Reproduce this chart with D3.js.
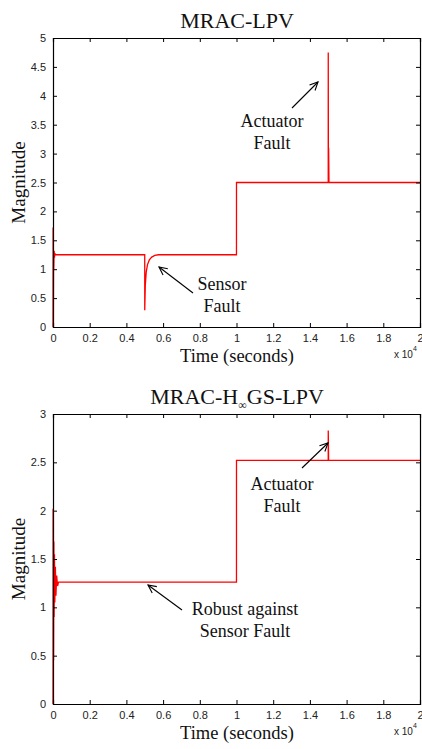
<!DOCTYPE html>
<meta charset="utf-8">
<style>
body { margin: 0; background: #fff; }
svg { display: block; }
.tick text { font-family: "Liberation Sans", Arial, sans-serif; font-size: 11px; fill: #222; }
.serif { font-family: "Liberation Serif", "Times New Roman", serif; fill: #111; }
</style>
<svg width="422" height="749"></svg>
<script src="https://cdn.jsdelivr.net/npm/d3@7"></script>
<script>

// time in seconds, response magnitude
var lpvTime  = [0, 5, 10, 15, 20, 30, 40, 60, 80, 100, 150, 4999, 5000, 5030, 5080, 5150, 5250, 5380, 5550, 5750, 9999, 10000, 14999, 15000, 15010, 15020, 15040, 20000];
var lpvValue = [0, 1.72, 0, 1.6, 0.1, 1.3, 1.0, 1.32, 1.2, 1.27, 1.25, 1.25, 0.29, 0.72, 0.95, 1.08, 1.16, 1.21, 1.24, 1.25, 1.25, 2.5, 2.5, 4.75, 2.5, 3.1, 2.5, 2.5];

var hinfTime  = [0, 5, 10, 20, 30, 45, 60, 80, 100, 130, 160, 200, 250, 300, 9999, 10000, 14999, 15000, 15020, 20000];
var hinfValue = [0, 2.02, 0, 1.98, 0.45, 1.68, 0.9, 1.55, 1.05, 1.42, 1.12, 1.33, 1.22, 1.26, 1.26, 2.52, 2.52, 2.83, 2.52, 2.52];

var xTicks = [0, 2000, 4000, 6000, 8000, 10000, 12000, 14000, 16000, 18000, 20000];
var lpvYTicks = [0, 0.5, 1, 1.5, 2, 2.5, 3, 3.5, 4, 4.5, 5];
var hinfYTicks = [0, 0.5, 1, 1.5, 2, 2.5, 3];

var svg = d3.select("svg");

function drawPanel(cfg) {
  var g = svg.append("g");
  var x = d3.scaleLinear().domain([0, 20000]).range([53, 420]);
  var y = d3.scaleLinear().domain([0, cfg.yMax]).range([cfg.bottom, cfg.top]);

  var line = d3.line()
      .x(function(d) { return x(d[0]); })
      .y(function(d) { return y(d[1]); });

  g.append("path")
      .datum(d3.zip(cfg.time, cfg.value))
      .attr("d", line)
      .attr("fill", "none")
      .attr("stroke", "#ff0000")
      .attr("stroke-width", 1.3);

  var fmt = function(d) { return d3.format("")(+(d / 10000).toFixed(1)); };

  g.append("g")
      .attr("transform", "translate(0," + cfg.bottom + ")")
      .call(d3.axisBottom(x).tickValues(xTicks).tickSize(-4).tickPadding(7).tickFormat(fmt));
  g.append("g")
      .attr("transform", "translate(0," + cfg.top + ")")
      .call(d3.axisTop(x).tickValues(xTicks).tickSize(-4).tickFormat(""));
  g.append("g")
      .attr("transform", "translate(53,0)")
      .call(d3.axisLeft(y).tickValues(cfg.yTicks).tickSize(-4).tickPadding(7).tickFormat(d3.format("")));
  g.append("g")
      .attr("transform", "translate(420,0)")
      .call(d3.axisRight(y).tickValues(cfg.yTicks).tickSize(-4).tickFormat(""));

  g.selectAll(".domain").attr("stroke", "#000").attr("stroke-width", 1.2);
  g.selectAll(".tick line").attr("stroke", "#000");

  // title
  var t = g.append("text").attr("class", "serif")
      .attr("x", 237).attr("y", cfg.top - 10)
      .attr("text-anchor", "middle").style("font-size", "22px");
  cfg.title(t);

  // axis labels
  g.append("text").attr("class", "serif")
      .attr("x", 237).attr("y", cfg.bottom + 35)
      .attr("text-anchor", "middle").style("font-size", "18.5px")
      .text("Time (seconds)");
  g.append("text").attr("class", "serif")
      .attr("transform", "translate(25," + ((cfg.top + cfg.bottom) / 2) + ") rotate(-90)")
      .attr("text-anchor", "middle").style("font-size", "19px")
      .text("Magnitude");

  var ex = g.append("text")
      .attr("x", 394).attr("y", cfg.bottom + 31)
      .style("font-family", "Liberation Sans, Arial, sans-serif")
      .style("font-size", "10px").style("fill", "#222");
  ex.append("tspan").text("x 10");
  ex.append("tspan").attr("dy", -7).style("font-size", "7px").text("4");

  // annotations
  cfg.notes.forEach(function(n) {
    var tx = g.append("text").attr("class", "serif")
        .attr("text-anchor", "middle").style("font-size", "18px");
    n.lines.forEach(function(s, i) {
      tx.append("tspan").attr("x", n.x).attr("y", n.y + i * 22).text(s);
    });
    g.append("line")
        .attr("x1", n.arrow[0]).attr("y1", n.arrow[1])
        .attr("x2", n.arrow[2]).attr("y2", n.arrow[3])
        .attr("stroke", "#000").attr("stroke-width", 1.1);
    var ang = Math.atan2(n.arrow[3] - n.arrow[1], n.arrow[2] - n.arrow[0]);
    var L = 9, w = 0.45;
    var hx = n.arrow[2], hy = n.arrow[3];
    g.append("path")
        .attr("d", "M" + (hx - L * Math.cos(ang - w)) + "," + (hy - L * Math.sin(ang - w)) +
                   "L" + hx + "," + hy +
                   "L" + (hx - L * Math.cos(ang + w)) + "," + (hy - L * Math.sin(ang + w)))
        .attr("fill", "none").attr("stroke", "#000").attr("stroke-width", 1.1);
  });
}

drawPanel({
  top: 38, bottom: 327, yMax: 5, yTicks: lpvYTicks,
  time: lpvTime, value: lpvValue,
  title: function(t) { t.text("MRAC-LPV"); },
  notes: [
    { lines: ["Sensor", "Fault"], x: 222, y: 290, arrow: [193, 293, 159, 267] },
    { lines: ["Actuator", "Fault"], x: 272, y: 127, arrow: [292, 108, 318, 82] }
  ]
});

drawPanel({
  top: 414, bottom: 704, yMax: 3, yTicks: hinfYTicks,
  time: hinfTime, value: hinfValue,
  title: function(t) {
    t.append("tspan").text("MRAC-H");
    t.append("tspan").attr("dy", 5).style("font-size", "12px").text("\u221e");
    t.append("tspan").attr("dy", -5).text("GS-LPV");
  },
  notes: [
    { lines: ["Robust against", "Sensor Fault"], x: 245, y: 615, arrow: [182, 610, 148, 585] },
    { lines: ["Actuator", "Fault"], x: 282, y: 490, arrow: [302, 468, 328, 443] }
  ]
});

</script>
